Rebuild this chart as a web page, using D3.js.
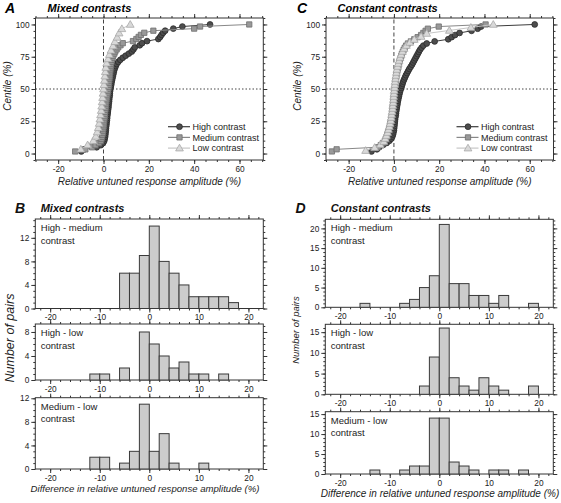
<!DOCTYPE html>
<html><head><meta charset="utf-8">
<script src="https://cdn.jsdelivr.net/npm/d3@7"></script>
<style>
body{margin:0;background:#fff}
svg{display:block}
text{font-family:"Liberation Sans",Arial,Helvetica,sans-serif}
</style>
</head><body>
<svg id="chart" width="561" height="503"></svg>
<script>
// ---------------- DATA ----------------
const seriesNames = ["High contrast", "Medium contrast", "Low contrast"];

// Panel A (mixed contrasts): sorted relative untuned response amplitudes (%)
const mixedHigh = [-9.8,-8.5,-3.0,-1.2,-0.2,0.3,0.5,0.7,0.8,0.9,1.0,1.05,1.15,1.3,1.35,1.5,1.6,1.65,1.8,1.9,2.0,2.15,2.2,2.3,2.45,2.5,2.6,2.75,2.8,2.9,3.0,3.2,3.4,3.5,3.7,3.9,4.1,4.3,4.5,4.7,5.0,5.4,5.8,6.5,7.4,8.5,9.8,11.2,12.5,13.2,13.8,16.0,17.0,19.2,24.2,25.0,25.6,26.3,27.2,30.8,34.8,47.0];
const mixedMedium = [-12.5,-8.0,-5.0,-3.5,-2.0,-1.2,-0.9,-0.7,-0.5,-0.3,-0.2,-0.1,0.0,0.1,0.2,0.3,0.4,0.5,0.6,0.7,0.8,0.9,1.0,1.1,1.2,1.3,1.45,1.6,1.75,1.9,2.05,2.2,2.3,2.4,2.5,2.6,2.7,2.8,2.9,3.0,3.1,3.2,3.3,3.5,3.7,4.0,4.3,4.8,5.2,5.8,6.5,7.5,8.5,13.0,14.5,15.5,16.5,18.0,22.0,40.0,42.6,64.3];
const mixedLow = [-10.0,-7.0,-4.5,-3.4,-2.8,-2.3,-1.9,-1.6,-1.3,-1.0,-0.8,-0.6,-0.4,-0.2,0.0,0.2,0.4,0.6,0.8,1.0,1.4,2.0,2.6,3.3,4.2,5.0,6.0,6.9,8.1,11.8];

// Panel C (constant contrasts)
const constHigh = [-9.9,-7.5,-6.5,-4.8,-3.2,-2.0,-1.2,-0.7,-0.4,-0.2,0.0,0.1,0.2,0.3,0.4,0.5,0.6,0.8,0.9,1.0,1.2,1.3,1.5,1.6,1.8,2.0,2.2,2.4,2.6,2.9,3.2,3.5,3.8,4.1,4.5,4.9,5.3,5.8,6.3,6.8,7.4,8.0,8.5,9.0,9.5,10.0,10.5,11.0,11.5,12.2,13.0,14.5,18.0,24.0,25.5,27.0,29.0,34.3,37.0,38.5,62.2];
const constMedium = [-27.4,-25.3,-7.0,-5.8,-4.8,-4.0,-3.6,-3.2,-2.9,-2.6,-2.3,-2.0,-1.8,-1.6,-1.4,-1.2,-1.0,-0.9,-0.8,-0.7,-0.6,-0.5,-0.4,-0.3,-0.2,-0.1,0.0,0.1,0.2,0.3,0.4,0.5,0.6,0.7,0.8,1.0,1.1,1.3,1.5,1.7,1.9,2.1,2.3,2.6,2.9,3.2,3.5,3.9,4.3,4.8,5.4,6.2,7.5,9.0,10.5,12.0,13.0,14.0,15.0,19.8,40.5];
const constLow = [-12.5,-8.5,-6.0,-4.5,-3.8,-3.3,-2.8,-2.4,-2.0,-1.7,-1.4,-1.2,-1.0,-0.8,-0.6,-0.5,-0.3,-0.2,-0.1,0.0,0.1,0.3,0.4,0.5,0.7,0.9,1.1,1.3,1.6,1.9,2.3,2.7,3.2,3.8,4.5,5.5,7.0,9.0,12.0,14.5,24.5,34.0,43.9];

// Histograms: left edges of 2%-wide bins, and number of pairs per bin
const binStarts = [-16,-14,-12,-10,-8,-6,-4,-2,0,2,4,6,8,10,12,14,16,18];
const binWidth = 2;
const histLabels = [["High - medium","contrast"],["High - low","contrast"],["Medium - low","contrast"]];
const mixedHighMedium = [0,0,0,0,0,6,6,9,14,8,6,4,2,2,2,2,1,0];
const mixedHighLow    = [0,0,1,1,0,2,0,8,6,4,2,3,1,1,0,1,0,0];
const mixedMediumLow  = [0,0,2,2,0,1,3,11,3,6,1,0,0,1,0,0,0,0];
const constHighMedium = [1,0,0,0,1,2,5,8,21,6,6,3,3,1,3,0,0,1];
const constHighLow    = [0,0,0,0,0,0,2,9,16,4,2,1,4,2,1,0,0,2];
const constMediumLow  = [0,1,0,0,1,2,2,14,14,3,2,1,0,1,1,0,1,0];

// Tick values
const cumXTicks = [-20,0,20,40,60];
const cumYTicks = [0,25,50,75,100];
const histXTicks = [-20,-10,0,10,20];

// ---------------- DRAWING ----------------
const svg = d3.select("#chart");
const INK = "#333";
const FONT_TICK = 8.3;

function fmt(d){ return String(d); }

function axesFrame(g, xs, ys, xMajor, xMinor, yMajor, yMinor, xLabels) {
  const [xl, xr] = xs.range();
  const [yb, yt] = ys.range();
  const add = (axis, tr, labels) => {
    const a = g.append("g").attr("transform", tr).call(axis);
    a.select(".domain").remove();
    a.selectAll("line").attr("stroke", INK);
    if (!labels) a.selectAll("text").remove();
    else a.selectAll("text").attr("font-size", FONT_TICK).attr("font-family", null).attr("fill", "#222");
    return a;
  };
  add(d3.axisBottom(xs).tickValues(xMinor).tickSize(2).tickSizeOuter(0), `translate(0,${yb})`, false);
  add(d3.axisTop(xs).tickValues(xMinor).tickSize(2).tickSizeOuter(0), `translate(0,${yt})`, false);
  add(d3.axisLeft(ys).tickValues(yMinor).tickSize(2).tickSizeOuter(0), `translate(${xl},0)`, false);
  add(d3.axisRight(ys).tickValues(yMinor).tickSize(2).tickSizeOuter(0), `translate(${xr},0)`, false);
  add(d3.axisBottom(xs).tickValues(xMajor).tickSize(4).tickPadding(2).tickFormat(fmt).tickSizeOuter(0), `translate(0,${yb})`, xLabels);
  add(d3.axisTop(xs).tickValues(xMajor).tickSize(4).tickSizeOuter(0), `translate(0,${yt})`, false);
  add(d3.axisLeft(ys).tickValues(yMajor).tickSize(4).tickPadding(2).tickFormat(fmt).tickSizeOuter(0), `translate(${xl},0)`, true);
  add(d3.axisRight(ys).tickValues(yMajor).tickSize(4).tickSizeOuter(0), `translate(${xr},0)`, false);
  g.append("rect").attr("x", xl).attr("y", yt).attr("width", xr - xl).attr("height", yb - yt)
    .attr("fill", "none").attr("stroke", INK).attr("stroke-width", 1);
}

const styles = [
  {line: "#3c3c3c", fill: "#4d4d4d", stroke: "#2b2b2b", sym: "circle"},
  {line: "#888888", fill: "#999999", stroke: "#6f6f6f", sym: "square"},
  {line: "#c6c6c6", fill: "#d9d9d9", stroke: "#a8a8a8", sym: "triangle"}
];

function marker(g, st, x, y) {
  if (st.sym === "circle") {
    g.append("circle").attr("cx", x).attr("cy", y).attr("r", 2.9)
      .attr("fill", st.fill).attr("stroke", st.stroke).attr("stroke-width", 0.8);
  } else {
    const type = st.sym === "square" ? d3.symbolSquare : d3.symbolTriangle;
    const size = st.sym === "square" ? 28 : 26;
    g.append("path").attr("d", d3.symbol().type(type).size(size)())
      .attr("transform", `translate(${x},${y + (st.sym === "triangle" ? 0.6 : 0)})`)
      .attr("fill", st.fill).attr("stroke", st.stroke).attr("stroke-width", 0.8);
  }
}

function cumPanel(opt) {
  const g = svg.append("g");
  const xs = d3.scaleLinear().domain([-30, 70.5]).range(opt.xRange);
  const ys = d3.scaleLinear().domain([-5, 105]).range([160, 18]);
  g.append("line").attr("x1", xs(0)).attr("x2", xs(0)).attr("y1", ys.range()[0]).attr("y2", ys.range()[1])
    .attr("stroke", "#444").attr("stroke-dasharray", "4,2.5").attr("stroke-width", 1);
  g.append("line").attr("x1", opt.xRange[0]).attr("x2", opt.xRange[1]).attr("y1", ys(50)).attr("y2", ys(50))
    .attr("stroke", "#444").attr("stroke-dasharray", "1.5,2").attr("stroke-width", 1);

  axesFrame(g, xs, ys, cumXTicks, d3.range(-30, 71, 5), cumYTicks, d3.range(-5, 106, 5), true);

  opt.series.forEach((vals, si) => {
    const st = styles[si];
    const n = vals.length;
    const pts = vals.map((v, i) => [xs(v), ys((i + 1) / n * 100)]);
    g.append("path").attr("d", d3.line()(pts)).attr("fill", "none")
      .attr("stroke", st.line).attr("stroke-width", 1);
    const mg = g.append("g");
    pts.forEach(p => marker(mg, st, p[0], p[1]));
  });

  seriesNames.forEach((name, i) => {
    const y = 126.7 + i * 10.7;
    const st = styles[i];
    g.append("line").attr("x1", opt.legX).attr("x2", opt.legX + 22).attr("y1", y).attr("y2", y)
      .attr("stroke", st.line).attr("stroke-width", 1.2);
    marker(g, st, opt.legX + 11.5, y);
    g.append("text").attr("x", opt.legX + 24.5).attr("y", y + 3.2).attr("font-size", 9).attr("fill", "#222").text(name);
  });

  g.append("text").attr("x", opt.letterX).attr("y", 12.5).attr("font-size", 14).attr("font-weight", "bold")
    .attr("font-style", "italic").text(opt.letter);
  g.append("text").attr("x", opt.titleX).attr("y", 12).attr("font-size", 11).attr("font-weight", "bold")
    .attr("font-style", "italic").text(opt.title);
  g.append("text").attr("transform", `translate(${opt.yLabX},86) rotate(-90)`).attr("text-anchor", "middle")
    .attr("font-size", 10).attr("font-style", "italic").attr("fill", "#222").text("Centile (%)");
  g.append("text").attr("x", (opt.xRange[0] + opt.xRange[1]) / 2).attr("y", 185).attr("text-anchor", "middle")
    .attr("font-size", 10).attr("font-style", "italic").attr("fill", "#222").text("Relative untuned response amplitude (%)");
}

cumPanel({xRange: [35.5, 263.3], series: [mixedHigh, mixedMedium, mixedLow], legX: 168,
  letter: "A", letterX: 5, title: "Mixed contrasts", titleX: 47.5, yLabX: 10.5});
cumPanel({xRange: [326, 553.5], series: [constHigh, constMedium, constLow], legX: 456.5,
  letter: "C", letterX: 297, title: "Constant contrasts", titleX: 337.5, yLabX: 300.5});

function histPanel(opt) {
  const g = svg.append("g");
  const xs = d3.scaleLinear().domain([-23, 23]).range(opt.xRange);
  const ys = d3.scaleLinear().domain([0, opt.yMax]).range(opt.yRange);
  axesFrame(g, xs, ys, histXTicks, d3.range(-22, 23, 2), opt.yTicks, d3.range(0, Math.floor(opt.yMax) + 1, 1), true);
  const bins = binStarts.map((s, i) => ({s, c: opt.counts[i]})).filter(d => d.c > 0);
  g.selectAll("rect.bar").data(bins).enter().append("rect").attr("class", "bar")
    .attr("x", d => xs(d.s)).attr("width", d => xs(d.s + binWidth) - xs(d.s))
    .attr("y", d => ys(d.c)).attr("height", d => ys(0) - ys(d.c))
    .attr("fill", "#cccccc").attr("stroke", "#3a3a3a").attr("stroke-width", 1);
  const tx = opt.xRange[0] + 5.5, ty = opt.yRange[1];
  g.append("text").attr("x", tx).attr("y", ty + 12).attr("font-size", 9.5).attr("fill", "#222").text(opt.label[0]);
  g.append("text").attr("x", tx).attr("y", ty + 24.5).attr("font-size", 9.5).attr("fill", "#222").text(opt.label[1]);
}

histPanel({xRange: [35.3, 263.3], yRange: [308.5, 219], yMax: 15.2, yTicks: [0,4,8,12], counts: mixedHighMedium, label: histLabels[0]});
histPanel({xRange: [35.3, 263.3], yRange: [380, 324], yMax: 9.33, yTicks: [0,4,8], counts: mixedHighLow, label: histLabels[1]});
histPanel({xRange: [35.3, 263.3], yRange: [469, 397.7], yMax: 12.1, yTicks: [0,4,8,12], counts: mixedMediumLow, label: histLabels[2]});
histPanel({xRange: [325.3, 553.3], yRange: [307.3, 219.3], yMax: 22.3, yTicks: [0,5,10,15,20], counts: constHighMedium, label: histLabels[0]});
histPanel({xRange: [325.3, 553.3], yRange: [394.3, 324.3], yMax: 16.9, yTicks: [0,5,10,15], counts: constHighLow, label: histLabels[1]});
histPanel({xRange: [325.3, 553.3], yRange: [474, 411.7], yMax: 15.6, yTicks: [0,5,10,15], counts: constMediumLow, label: histLabels[2]});

function txt(x, y, s, size, opts) {
  const t = svg.append("text").attr("x", x).attr("y", y).attr("font-size", size).attr("fill", "#111").text(s);
  if (opts && opts.bold) t.attr("font-weight", "bold");
  if (opts && opts.italic) t.attr("font-style", "italic");
  if (opts && opts.anchor) t.attr("text-anchor", opts.anchor);
  return t;
}
txt(15, 212.7, "B", 14, {bold: true, italic: true});
txt(40.7, 212, "Mixed contrasts", 11, {bold: true, italic: true});
txt(295.5, 212.7, "D", 14, {bold: true, italic: true});
txt(330.7, 212, "Constant contrasts", 11, {bold: true, italic: true});
txt(145, 492, "Difference in relative untuned response amplitude (%)", 9.6, {italic: true, anchor: "middle"}).attr("fill", "#222");
txt(440, 497, "Difference in relative untuned response amplitude (%)", 10, {italic: true, anchor: "middle"}).attr("fill", "#222");
svg.append("text").attr("transform", "translate(14,338) rotate(-90)").attr("text-anchor", "middle")
  .attr("font-size", 12.5).attr("font-style", "italic").attr("fill", "#222").text("Number of pairs");
svg.append("text").attr("transform", "translate(299,330) rotate(-90)").attr("text-anchor", "middle")
  .attr("font-size", 9.5).attr("font-style", "italic").attr("fill", "#222").text("Number of pairs");
</script>
</body></html>
